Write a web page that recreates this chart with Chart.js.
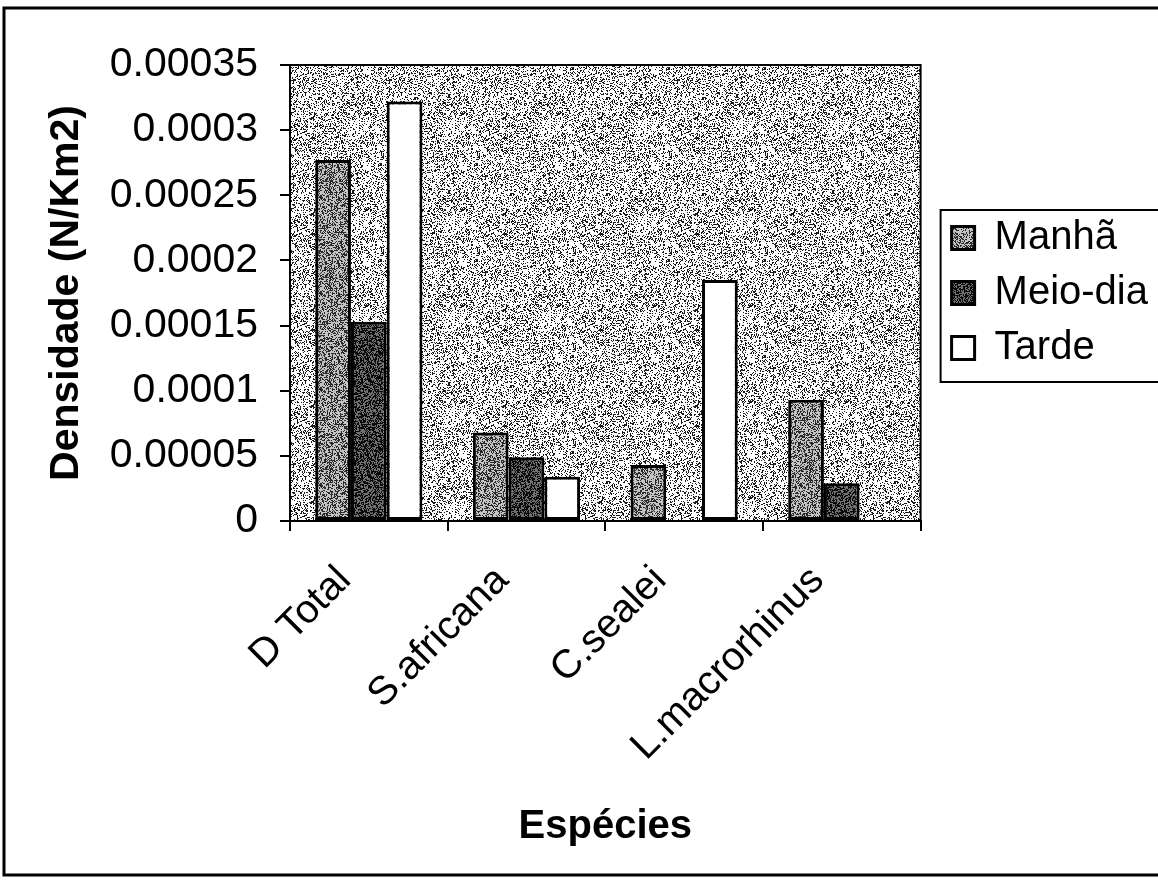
<!DOCTYPE html>
<html lang="pt">
<head>
<meta charset="utf-8">
<title>Densidade por espécie</title>
<script src="https://cdn.jsdelivr.net/npm/chart.js@4.4.1/dist/chart.umd.min.js"></script>
<style>
  body { margin: 0; background: #fff; }
  #chart { display: block; }
</style>
</head>
<body>
<canvas id="chart" width="1158" height="889"></canvas>
<script>
const especies = ["D Total", "S.africana", "C.sealei", "L.macrorhinus"];
const manha = [0.000277, 0.000068, 0.000043, 0.000093];
const meioDia = [0.000153, 0.000049, null, 0.000029];
const tarde = [0.000322, 0.000034, 0.000185, null];
const yTickValues = [0, 0.00005, 0.0001, 0.00015, 0.0002, 0.00025, 0.0003, 0.00035];
const yTickLabels = ["0", "0.00005", "0.0001", "0.00015", "0.0002", "0.00025", "0.0003", "0.00035"];

const FONT = "'Liberation Sans', Arial, sans-serif";

// cheap integer hash so the speckle texture is the same on every run
function hash(x, y, s) {
  let h = Math.imul(x, 374761393) + Math.imul(y, 668265263) + Math.imul(s, 1442695041);
  h = Math.imul(h ^ (h >>> 13), 1274126177);
  h ^= h >>> 16;
  return (h >>> 0) / 4294967296;
}

function speckle(base, dot, density, seed) {
  const c = document.createElement("canvas");
  c.width = c.height = 96;
  const g = c.getContext("2d");
  g.fillStyle = base;
  g.fillRect(0, 0, 96, 96);
  g.fillStyle = dot;
  for (let y = 0; y < 96; y++) {
    for (let x = 0; x < 96; x++) {
      if (hash(x, y, seed) < density) g.fillRect(x, y, 1, 1);
    }
  }
  return g.createPattern(c, "repeat");
}

const fills = {
  plot: speckle("#ffffff", "#1a1a1a", 0.28, 1),
  manha: speckle("#c4c4c4", "#2a2a2a", 0.42, 2),
  meioDia: speckle("#707070", "#0a0a0a", 0.55, 3),
  tarde: "#ffffff",
};

const frame = {
  id: "frame",
  beforeDraw(chart) {
    const { ctx, chartArea: a } = chart;
    ctx.save();
    ctx.fillStyle = fills.plot;
    ctx.fillRect(a.left, a.top, a.right - a.left, a.bottom - a.top);
    ctx.restore();
  },
  afterDraw(chart) {
    const { ctx, chartArea: a, legend } = chart;
    ctx.save();
    ctx.strokeStyle = "#000";
    ctx.lineWidth = 2;
    ctx.strokeRect(a.left, a.top, a.right - a.left, a.bottom - a.top);

    const hb = legend.legendHitBoxes;
    if (hb && hb.length) {
      const first = hb[0];
      const last = hb[hb.length - 1];
      const x0 = first.left - 11;
      const y0 = first.top - 8;
      const y1 = last.top + last.height + 14;
      ctx.strokeRect(x0, y0, chart.width + 10 - x0, y1 - y0);
    }

    ctx.lineWidth = 3;
    ctx.strokeRect(4, 8, chart.width + 10, 867);
    ctx.restore();
  },
};

const barStyle = {
  borderColor: "#000",
  borderWidth: 3,
  borderSkipped: false,
  categoryPercentage: 0.68,
  barPercentage: 1.0,
};

new Chart(document.getElementById("chart"), {
  type: "bar",
  data: {
    labels: especies,
    datasets: [
      { label: "Manhã", data: manha, backgroundColor: fills.manha, ...barStyle },
      { label: "Meio-dia", data: meioDia, backgroundColor: fills.meioDia, ...barStyle },
      { label: "Tarde", data: tarde, backgroundColor: fills.tarde, ...barStyle },
    ],
  },
  options: {
    responsive: false,
    animation: false,
    layout: { padding: { top: 65, left: 10, right: 0, bottom: 15 } },
    scales: {
      x: {
        grid: { drawOnChartArea: false, tickLength: 10, color: "#000", lineWidth: 2 },
        border: { display: true, color: "#000", width: 2 },
        ticks: {
          color: "#000",
          font: { family: FONT, size: 40 },
          autoSkip: false,
          minRotation: 45,
          maxRotation: 45,
          padding: 26,
          labelOffset: -24,
        },
        title: {
          display: true,
          text: "Espécies",
          color: "#000",
          font: { family: FONT, size: 40, weight: "bold" },
          padding: { top: 0, bottom: 23 },
        },
        afterFit(scale) {
          scale.height = 353;
        },
      },
      y: {
        min: 0,
        max: 0.00035,
        ticks: {
          stepSize: 0.00005,
          color: "#000",
          font: { family: FONT, size: 41 },
          padding: 22,
          callback(value) {
            const i = yTickValues.findIndex((t) => Math.abs(t - value) < 1e-9);
            return i >= 0 ? yTickLabels[i] : "";
          },
        },
        grid: { drawOnChartArea: false, tickLength: 10, color: "#000", lineWidth: 2 },
        border: { display: true, color: "#000", width: 2 },
        title: {
          display: true,
          text: "Densidade (N/Km2)",
          color: "#000",
          font: { family: FONT, size: 41, weight: "bold" },
          padding: { top: 32, bottom: 0 },
        },
        afterFit(scale) {
          scale.width = 280;
        },
      },
      // empty strip between the plot and the legend (hidden, so it does not
      // count against the legend's share of the width)
      gap: {
        type: "linear",
        position: "right",
        display: false,
        afterFit(scale) {
          scale.width = 16;
        },
      },
    },
    plugins: {
      legend: {
        position: "right",
        fullSize: false,
        labels: {
          color: "#000",
          font: { family: FONT, size: 40 },
          boxWidth: 23,
          boxHeight: 23,
          padding: 15,
        },
      },
      tooltip: { enabled: false },
    },
  },
  plugins: [frame],
});
</script>
</body>
</html>
